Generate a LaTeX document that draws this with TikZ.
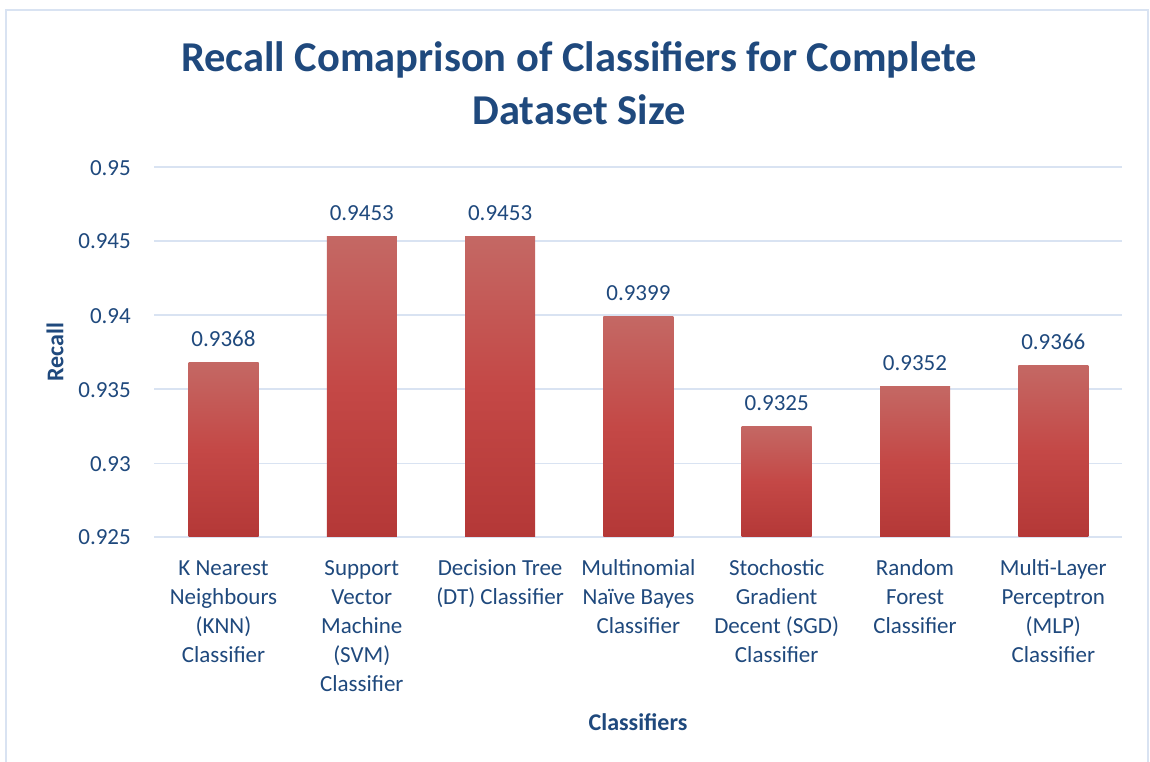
\documentclass[tikz,border=0pt]{standalone}
\usepackage{fontspec}
\setmainfont{Carlito}
\definecolor{txt}{RGB}{31,73,125}
\definecolor{grid}{RGB}{217,227,242}
\definecolor{frame}{RGB}{217,227,242}
\definecolor{bartop}{RGB}{196,104,100}
\definecolor{barmid}{RGB}{196,72,70}
\definecolor{barbot}{RGB}{180,56,55}
\tikzset{
  gridline/.style={draw=grid, line width=1.2pt},
  barbox/.style={top color=bartop, bottom color=barbot, middle color=barmid, draw=none},
  ticklab/.style={font=\fontsize{23}{28}\selectfont, text=txt, anchor=base east, inner sep=0pt},
  vallab/.style={font=\fontsize{23}{28}\selectfont, text=txt, anchor=base, inner sep=0pt},
  catlab/.style={font=\fontsize{23}{29}\selectfont, text=txt, align=center, anchor=north, inner sep=0pt},
  axtitle/.style={font=\bfseries\fontsize{24}{28}\selectfont, text=txt, inner sep=0pt},
  charttitle/.style={font=\bfseries\fontsize{42.5}{53}\selectfont, text=txt, align=center, inner sep=0pt}
}
\begin{document}
\begin{tikzpicture}[x=1pt,y=1pt]
\useasboundingbox (0,0) rectangle (1150,762);
\fill[white] (0,0) rectangle (1150,762);
\draw[frame, line width=1.5pt] (6,-10) rectangle (1148,752);
% title
\node[charttitle] (title) at (579,679) {Recall Comaprison of Classifiers for Complete\\Dataset Size};
% gridlines and tick labels
\foreach \v/\lab [count=\i] in {0.925/0.925,0.93/0.93,0.935/0.935,0.94/0.94,0.945/0.945,0.95/0.95}{
  \pgfmathsetmacro{\yy}{225+(\v-0.925)*14800}
  \draw[gridline] (154,\yy) -- (1122,\yy);
  \node[ticklab] (tick\i) at (131,\yy-8) {\lab};
}
% bars
\foreach \v/\lab [count=\i from 0] in {0.9368/0.9368,0.9453/0.9453,0.9453/0.9453,0.9399/0.9399,0.9325/0.9325,0.9352/0.9352,0.9366/0.9366}{
  \pgfmathsetmacro{\xc}{223.5+138.3*\i}
  \pgfmathsetmacro{\yt}{225+(\v-0.925)*14800}
  \shade[barbox] (\xc-35,225) rectangle (\xc+35,\yt);
  \node[vallab] (val\i) at (\xc,\yt+16) {\lab};
}
% category labels
\node[catlab] (c0) at (223.5,206.5) {\strut K Nearest\\Neighbours\\(KNN)\\Classifier};
\node[catlab] (c1) at (361.8,206.5) {\strut Support\\Vector\\Machine\\(SVM)\\Classifier};
\node[catlab] (c2) at (500.1,206.5) {\strut Decision Tree\\(DT) Classifier};
\node[catlab] (c3) at (638.4,206.5) {\strut Multinomial\\Naïve Bayes\\Classifier};
\node[catlab] (c4) at (776.7,206.5) {\strut Stochostic\\Gradient\\Decent (SGD)\\Classifier};
\node[catlab] (c5) at (915.0,206.5) {\strut Random\\Forest\\Classifier};
\node[catlab] (c6) at (1053.3,206.5) {\strut Multi-Layer\\Perceptron\\(MLP)\\Classifier};
% axis titles
\node[axtitle] (xt) at (638,40) {Classifiers};
\node[axtitle, rotate=90] (yt) at (55,410) {Recall};
\end{tikzpicture}
\end{document}
